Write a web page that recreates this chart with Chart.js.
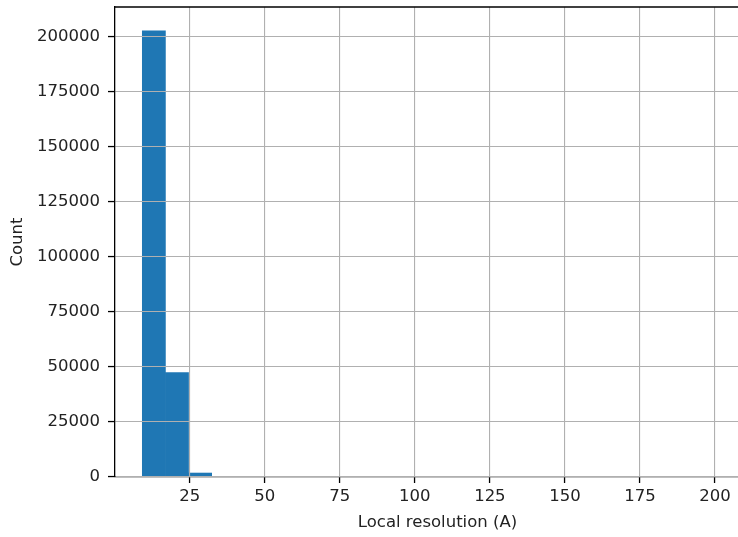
<!DOCTYPE html>
<html>
<head>
<meta charset="utf-8">
<script src="https://cdn.jsdelivr.net/npm/chart.js@4/dist/chart.umd.min.js"></script>
<style>
  html, body { margin: 0; padding: 0; background: #fff; overflow: hidden; }
  #wrap { width: 760px; height: 537px; }
</style>
</head>
<body>
<div id="wrap"><canvas id="hist" width="760" height="537"></canvas></div>
<script>
// Histogram of local resolution values (bin edges in A, counts per bin)
const binEdges = [9.2, 16.9, 24.6, 32.3, 40.0, 47.7, 55.4, 63.1, 70.8, 78.5, 86.2, 93.9,
                  101.6, 109.3, 117.0, 124.7, 132.4, 140.1, 147.8, 155.5, 163.2, 170.9,
                  178.6, 186.3, 194.0];
const counts = [202700, 47400, 1800, 0, 0, 0, 0, 0, 0, 0, 0, 0,
                0, 0, 0, 0, 0, 0, 0, 0, 0, 0, 0, 0];
const xTicks = [25, 50, 75, 100, 125, 150, 175, 200];
const yTicks = [0, 25000, 50000, 75000, 100000, 125000, 150000, 175000, 200000];
const xLabel = 'Local resolution (A)';
const yLabel = 'Count';

const FONT = { family: "'DejaVu Sans', sans-serif", size: 16.5, lineHeight: 1.2 };
const TEXT = '#222';

// bar centers built from the edges
const points = counts.map((c, i) => ({ x: (binEdges[i] + binEdges[i + 1]) / 2, y: c }));

// matplotlib style top spine
const topSpine = {
    id: 'topSpine',
    afterDraw(chart) {
        const { ctx, chartArea } = chart;
        ctx.save();
        ctx.strokeStyle = '#000';
        ctx.lineWidth = 1.3;
        ctx.beginPath();
        ctx.moveTo(chartArea.left, chartArea.top);
        ctx.lineTo(chartArea.right, chartArea.top);
        ctx.stroke();
        ctx.restore();
    }
};

new Chart(document.getElementById('hist'), {
    type: 'bar',
    data: {
        datasets: [{
            data: points,
            backgroundColor: '#1f77b4',
            borderWidth: 0,
            barPercentage: 1,
            categoryPercentage: 1
        }]
    },
    options: {
        responsive: false,
        animation: false,
        layout: { padding: { top: 7, right: 0, bottom: 0, left: 0 } },
        plugins: { legend: { display: false }, tooltip: { enabled: false } },
        scales: {
            x: {
                type: 'linear',
                min: 0.1,
                max: 215,
                offset: false,
                afterFit(scale) {
                    scale.height = 60;
                    scale.paddingLeft = 0;
                    scale.paddingRight = 0;
                },
                afterBuildTicks(scale) { scale.ticks = xTicks.map(v => ({ value: v })); },
                ticks: {
                    maxRotation: 0,
                    autoSkip: false,
                    padding: 4,
                    color: TEXT,
                    font: FONT
                },
                grid: { offset: false, color: '#b0b0b0', lineWidth: 1.1, tickColor: '#000', tickWidth: 1.3, tickLength: 6, z: 1 },
                border: { color: '#000', width: 1.3, z: 1 },
                title: { display: true, text: xLabel, color: TEXT, font: FONT, padding: { top: 0, bottom: 4 } }
            },
            y: {
                min: 0,
                max: 213500,
                afterFit(scale) {
                    scale.width = 115;
                    scale.paddingTop = 0;
                    scale.paddingBottom = 0;
                },
                afterBuildTicks(scale) { scale.ticks = yTicks.map(v => ({ value: v })); },
                ticks: {
                    autoSkip: false,
                    padding: 8,
                    color: TEXT,
                    font: FONT,
                    callback: (v) => String(v)
                },
                grid: { color: '#b0b0b0', lineWidth: 1.1, tickColor: '#000', tickWidth: 1.3, tickLength: 7, z: 1 },
                border: { color: '#000', width: 1.3, z: 1 },
                title: { display: true, text: yLabel, color: TEXT, font: FONT, padding: { top: 8, bottom: 0 } }
            }
        }
    },
    plugins: [topSpine]
});
</script>
</body>
</html>
